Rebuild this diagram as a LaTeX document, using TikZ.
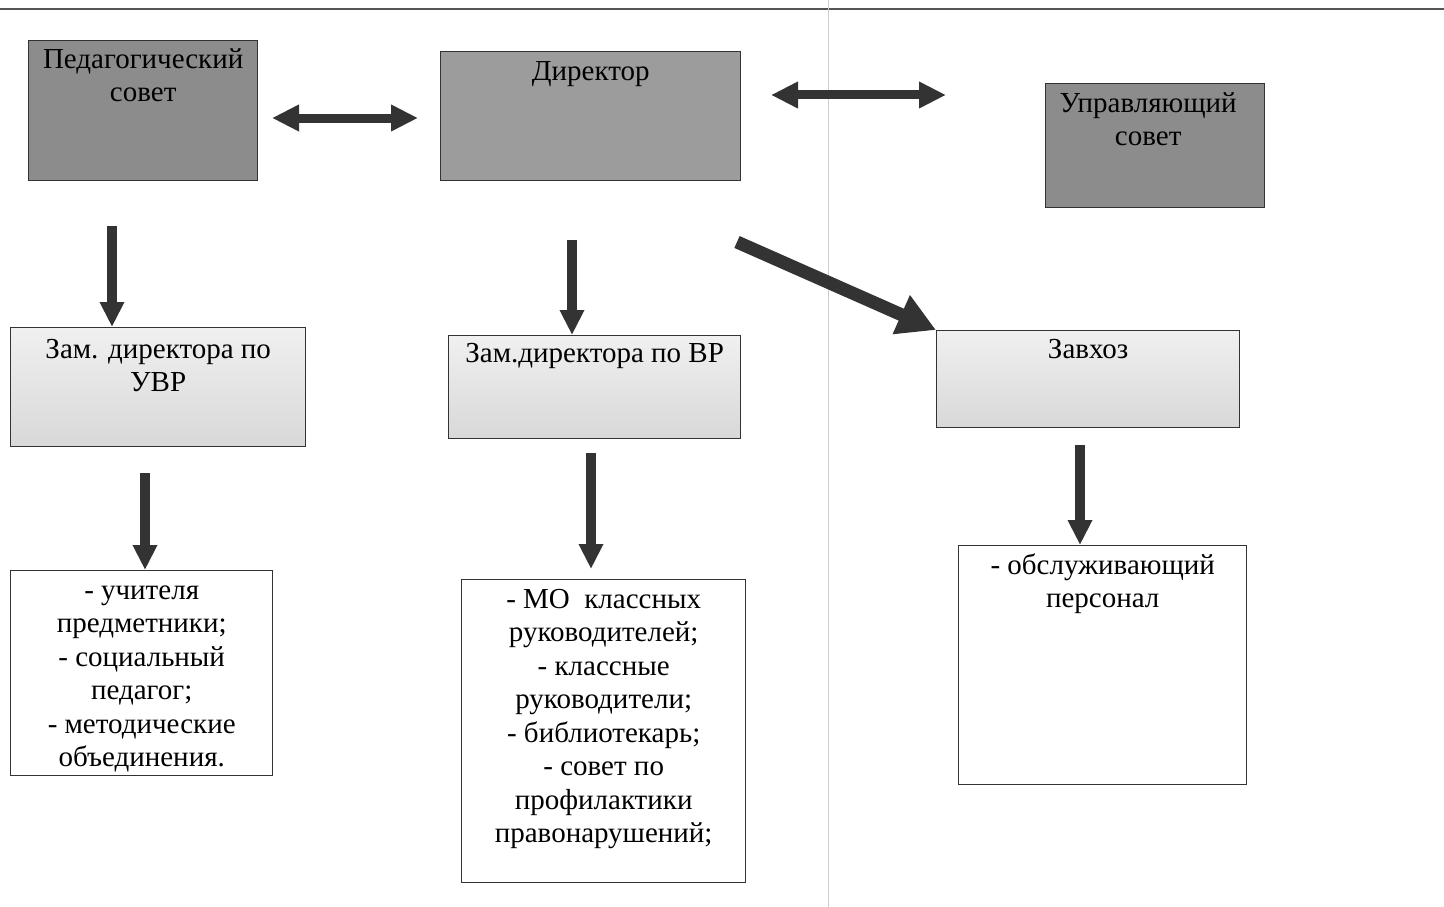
\documentclass[tikz,border=0pt]{standalone}
\usepackage{fontspec}
\setmainfont{Liberation Serif}
\usetikzlibrary{arrows.meta}
\definecolor{boxline}{HTML}{333333}
\definecolor{arrowc}{HTML}{333333}
\definecolor{darkfill}{HTML}{8C8C8C}
\definecolor{dirfill}{HTML}{9C9C9C}
\definecolor{lighttop}{HTML}{F0F0F0}
\definecolor{lightbot}{HTML}{D8D8D8}
\definecolor{rulec}{HTML}{555555}
\definecolor{vrule}{HTML}{C8CCD8}
\newcommand{\firstln}{\rule{0pt}{24pt}}
\begin{document}
\begin{tikzpicture}[x=1pt,y=-1pt,
  box/.style={draw=boxline, line width=1.4pt, inner sep=0pt, anchor=north west},
  darkb/.style={box, fill=darkfill},
  dirb/.style={box, fill=dirfill},
  lightb/.style={box, top color=lighttop, bottom color=lightbot},
  whiteb/.style={box, fill=white},
  txt/.style={font=\fontsize{29}{33.5}\selectfont, align=center, anchor=north, inner sep=0pt},
  arr/.style={draw=arrowc, line width=10pt, -{Triangle[width=23pt,length=25pt]}},
  bigarr/.style={draw=arrowc, line width=13pt, -{Triangle[width=40pt,length=38pt]}},
  dbl/.style={draw=arrowc, line width=9pt, {Triangle[width=25pt,length=27pt]}-{Triangle[width=25pt,length=27pt]}}]
\useasboundingbox (0,0) rectangle (1444,907);
\fill[white] (0,0) rectangle (1444,907);
% page rules
\coordinate (hl) at (0,9);
\coordinate (hr) at (1444,9);
\draw[rulec, line width=1.5pt] (hl) -- (hr);
\coordinate (vt) at (828,0);
\coordinate (vb) at (828,907);
\draw[vrule, line width=1pt] (vt) -- (vb);
% top row
\node[darkb, minimum width=229pt, minimum height=140pt] (ped) at (28,40) {};
\node[txt] (pedT) at ([yshift=-4pt]ped.north) {\firstln Педагогический\\совет};
\node[dirb, minimum width=300pt, minimum height=129pt] (dir) at (440,51) {};
\node[txt] (dirT) at ([yshift=-5pt]dir.north) {\firstln Директор};
\node[darkb, minimum width=219pt, minimum height=124pt] (upr) at (1045,83) {};
\node[txt] (uprT) at ([xshift=-7pt,yshift=-5pt]upr.north) {\firstln Управляющий\\совет};
% middle row
\node[lightb, minimum width=295pt, minimum height=119pt] (zuvr) at (10,327) {};
\node[txt] (zuvrT) at ([yshift=-7pt]zuvr.north) {\firstln Зам. директора по\\УВР};
\node[lightb, minimum width=292pt, minimum height=103pt] (zvr) at (448,335) {};
\node[txt] (zvrT) at ([yshift=-3pt]zvr.north) {\firstln Зам.директора по ВР};
\node[lightb, minimum width=303pt, minimum height=97pt] (zav) at (936,330) {};
\node[txt] (zavT) at ([yshift=-4pt]zav.north) {\firstln Завхоз};
% bottom row
\node[whiteb, minimum width=262pt, minimum height=205pt] (uch) at (10,570) {};
\node[txt] (uchT) at ([yshift=-5pt]uch.north) {\firstln - учителя\\предметники;\\- социальный\\педагог;\\- методические\\объединения.};
\node[whiteb, minimum width=284pt, minimum height=303pt] (mo) at (461,579) {};
\node[txt] (moT) at ([yshift=-5pt]mo.north) {\firstln - МО\ \ классных\\руководителей;\\- классные\\руководители;\\- библиотекарь;\\- совет по\\профилактики\\правонарушений;};
\node[whiteb, minimum width=288pt, minimum height=239pt] (obs) at (958,545) {};
\node[txt] (obsT) at ([yshift=-5pt]obs.north) {\firstln - обслуживающий\\персонал};
% double arrows
\coordinate (d1a) at (272,118);
\coordinate (d1b) at (418,118);
\draw[dbl] (d1a) -- (d1b);
\coordinate (d2a) at (771,95);
\coordinate (d2b) at (946,95);
\draw[dbl] (d2a) -- (d2b);
% down arrows
\coordinate (a1) at (112,226);
\draw[arr] (a1) -- (a1 |- zuvr.north);
\coordinate (a2) at (572,240);
\draw[arr] (a2) -- (a2 |- zvr.north);
\coordinate (a3) at (145,473);
\draw[arr] (a3) -- (a3 |- uch.north);
\coordinate (a4) at (591,453);
\draw[arr, shorten >=10pt] (a4) -- (a4 |- mo.north);
\coordinate (a5) at (1080,445);
\draw[arr] (a5) -- (a5 |- obs.north);
\coordinate (a6) at (737,242);
\draw[bigarr] (a6) -- (zav.north west);
\end{tikzpicture}
\end{document}
